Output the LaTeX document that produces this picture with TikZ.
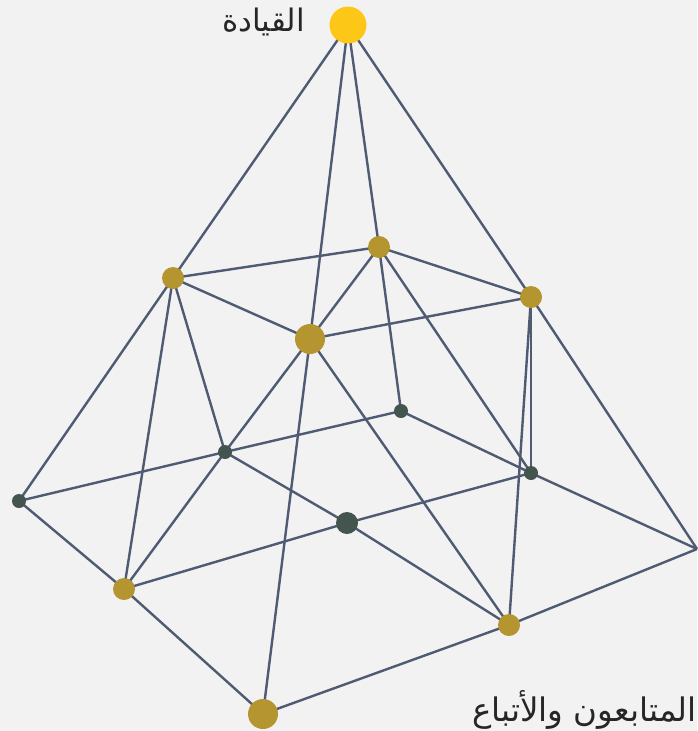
\documentclass[tikz,border=0pt]{standalone}
\usepackage{fontspec}
\newfontfamily\arabicfont[Script=Arabic]{DejaVu Sans}
\TeXXeTstate=1
\definecolor{bgc}{HTML}{F2F2F2}
\definecolor{edgec}{HTML}{4F5A73}
\definecolor{goldc}{HTML}{B59530}
\definecolor{topc}{HTML}{FCC716}
\definecolor{darkc}{HTML}{44544E}
\begin{document}
\begin{tikzpicture}[x=1pt,y=-1pt,
  edge/.style={draw=edgec,line width=2.4pt},
  gold/.style={circle,fill=goldc,inner sep=0pt,minimum size=22pt},
  goldbig/.style={circle,fill=goldc,inner sep=0pt,minimum size=30pt},
  dark/.style={circle,fill=darkc,inner sep=0pt,minimum size=14pt},
  darkbig/.style={circle,fill=darkc,inner sep=0pt,minimum size=22pt},
  topn/.style={circle,fill=topc,inner sep=0pt,minimum size=37pt},
  lab/.style={font=\arabicfont\fontsize{31}{36}\selectfont,text=black!85,inner sep=0pt}]
\fill[bgc] (0,0) rectangle (697,731);
\useasboundingbox (0,0) rectangle (697,731);
\coordinate (T) at (348,25);
\coordinate (A) at (173,278);
\coordinate (B) at (379,247);
\coordinate (C) at (531,297);
\coordinate (D) at (310,339);
\coordinate (E) at (401,411);
\coordinate (F) at (225,452);
\coordinate (G) at (19,501);
\coordinate (H) at (531,473);
\coordinate (I) at (347,523);
\coordinate (J) at (697,549);
\coordinate (K) at (124,589);
\coordinate (L) at (509,625);
\coordinate (M) at (263,714);
\foreach \a/\b in {T/A,T/D,T/B,T/C,A/B,A/D,A/G,A/K,A/F,B/D,B/C,B/E,B/H,C/D,C/H,C/L,C/J,D/F,D/M,D/L,G/F,F/E,E/H,F/K,F/I,I/L,K/I,I/H,H/J,L/J,G/K,K/M,M/L}
  \draw[edge] (\a) -- (\b);
\node[topn] (nT) at (T) {};
\node[gold] (nA) at (A) {};
\node[gold] (nB) at (B) {};
\node[gold] (nC) at (C) {};
\node[goldbig] (nD) at (D) {};
\node[dark] (nE) at (E) {};
\node[dark] (nF) at (F) {};
\node[dark] (nG) at (G) {};
\node[dark] (nH) at (H) {};
\node[darkbig] (nI) at (I) {};
\node[gold] (nK) at (K) {};
\node[gold] (nL) at (L) {};
\node[goldbig] (nM) at (M) {};
\node[lab,anchor=east] (t1) at (305,22) {\beginR القيادة\endR};
\node[lab,anchor=east,font=\arabicfont\fontsize{32.5}{38}\selectfont] (t2) at (697,710) {\beginR المتابعون والأتباع\endR};
\end{tikzpicture}
\end{document}
